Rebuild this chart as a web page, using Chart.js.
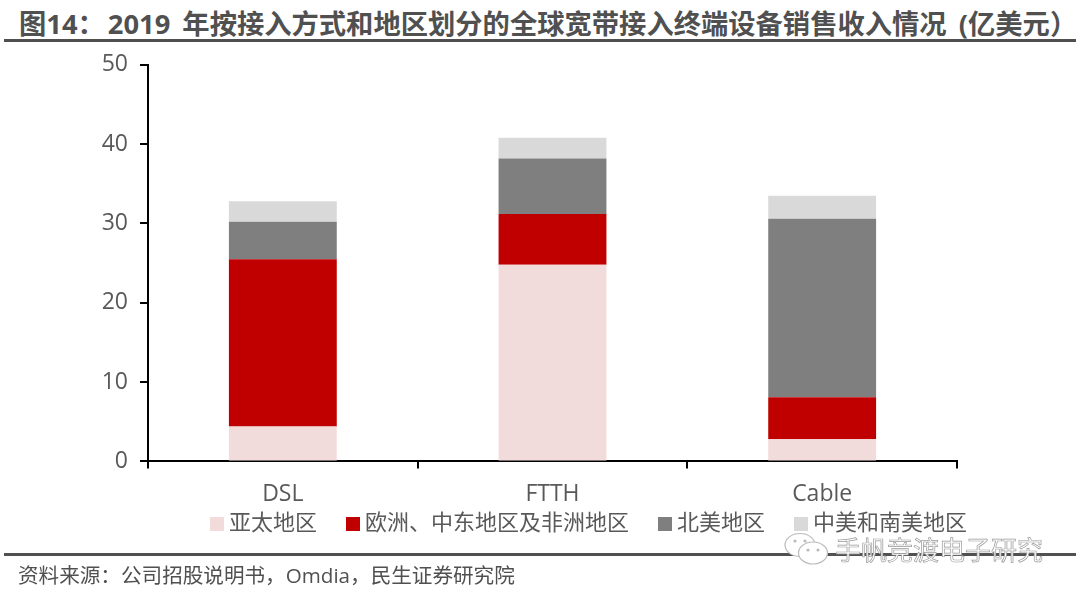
<!DOCTYPE html>
<html>
<head>
<meta charset="utf-8">
<script src="https://cdn.jsdelivr.net/npm/chart.js@4"></script>
<style>
  html, body { margin: 0; background: #fff; }
  body { width: 1080px; height: 598px; position: relative; overflow: hidden; font-family: "Open Sans", "Noto Sans CJK SC", sans-serif; color: #505050; }
  #chartBox { position: absolute; left: 0; top: 39px; width: 1080px; height: 554px; }
  .rule { position: absolute; left: 4px; width: 1072px; height: 3px; background: #505050; }
  #title { position: absolute; left: 19px; top: 7px; font-size: 27.3px; line-height: 34px; font-weight: 700; white-space: nowrap; word-spacing: 5px; }
  #title span { margin-left: 3px; }
  #source { position: absolute; left: 18px; top: 561px; font-size: 20.6px; line-height: 28px; white-space: nowrap; }
  #mark { position: absolute; left: 782px; top: 532px; }
  #markText { position: absolute; left: 835px; top: 533px; font-size: 26px; line-height: 34px; color: #fff; -webkit-text-stroke: 0.7px #9a9a9a; white-space: nowrap; }
</style>
</head>
<body>
<div id="title">图14：<span>2019</span> 年按接入方式和地区划分的全球宽带接入终端设备销售收入情况 (亿美元）</div>
<div class="rule" style="top:39px"></div>
<div id="chartBox"><canvas id="myChart"></canvas></div>
<div class="rule" style="top:553px"></div>
<div id="source">资料来源：公司招股说明书，Omdia，民生证券研究院</div>
<svg id="mark" width="48" height="36" viewBox="0 0 48 36">
  <ellipse cx="18" cy="13" rx="15" ry="11.5" fill="#fff" stroke="#bbb" stroke-width="1.2"/>
  <ellipse cx="31" cy="21" rx="14.5" ry="11" fill="#fff" stroke="#bbb" stroke-width="1.2"/>
  <circle cx="13" cy="9" r="1.6" fill="#bbb"/><circle cx="23" cy="9" r="1.6" fill="#bbb"/>
  <circle cx="26" cy="18" r="1.6" fill="#bbb"/><circle cx="36" cy="18" r="1.6" fill="#bbb"/>
</svg>
<div id="markText">手帆竞渡电子研究</div>
<script>
const categories = ['DSL', 'FTTH', 'Cable'];
const asiaPacific = [4.4, 24.8, 2.8];
const europeMeaAfrica = [21.1, 6.4, 5.3];
const northAmerica = [4.7, 7.0, 22.5];
const latinAmerica = [2.6, 2.6, 2.9];
const yTicks = [0, 10, 20, 30, 40, 50];

const textColor = '#595959';
const latinFont = '"Open Sans", "Noto Sans CJK SC", sans-serif';

// legend sits off-centre from the plot in the original, and closer to the axis
const shiftLegend = {
  id: 'shiftLegend',
  afterLayout(chart) {
    chart.legend.left += 65;
    chart.legend.right += 65;
    chart.legend.top -= 42;
    chart.legend.bottom -= 42;
  }
};

function bar(label, data, color) {
  return { label, data, backgroundColor: color, barPercentage: 0.8, categoryPercentage: 0.5 };
}

new Chart(document.getElementById('myChart').getContext('2d'), {
  type: 'bar',
  plugins: [shiftLegend],
  data: {
    labels: categories,
    datasets: [
      bar('亚太地区', asiaPacific, '#F2DCDB'),
      bar('欧洲、中东地区及非洲地区', europeMeaAfrica, '#C00000'),
      bar('北美地区', northAmerica, '#7F7F7F'),
      bar('中美和南美地区', latinAmerica, '#D9D9D9')
    ]
  },
  options: {
    responsive: true,
    maintainAspectRatio: false,
    animation: false,
    layout: { padding: { left: 96, right: 123, top: 13, bottom: 6 } },
    plugins: {
      title: { display: false },
      tooltip: { enabled: false },
      legend: {
        position: 'bottom',
        labels: {
          usePointStyle: true,
          pointStyle: 'rect',
          boxWidth: 2,
          boxHeight: 14,
          padding: 35,
          color: textColor,
          font: { family: latinFont, size: 22 }
        }
      }
    },
    scales: {
      x: {
        stacked: true,
        border: { color: '#000', width: 2 },
        grid: { display: true, drawOnChartArea: false, color: '#000', lineWidth: 2, tickLength: 7 },
        ticks: { color: textColor, padding: 12, font: { family: latinFont, size: 23 } }
      },
      y: {
        stacked: true,
        min: 0,
        max: 50,
        afterBuildTicks(scale) { scale.ticks = yTicks.map(v => ({ value: v })); },
        afterFit(scale) { scale.width = 52; },
        border: { color: '#000', width: 2 },
        grid: { display: true, drawOnChartArea: false, color: '#000', lineWidth: 2, tickLength: 8 },
        ticks: { color: textColor, padding: 12, font: { family: latinFont, size: 23 } }
      }
    }
  }
});
</script>
</body>
</html>
